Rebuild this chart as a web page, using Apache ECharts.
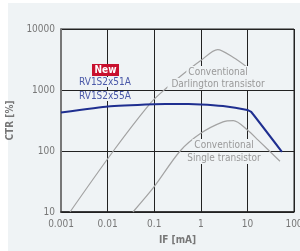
<!DOCTYPE html>
<html>
<head>
<meta charset="utf-8">
<script src="https://cdn.jsdelivr.net/npm/echarts@6/dist/echarts.min.js"></script>
<style>
  html, body { margin: 0; padding: 0; background: #fff; }
  #chart { width: 300px; height: 251px; }
</style>
</head>
<body>
<div id="chart"></div>
<script>
  // IF [mA], CTR [%]
  const newPart = [[0.001, 428], [0.01, 537], [0.1, 585], [0.3, 592], [1, 580], [3, 545], [10, 470], [12, 440], [55, 97]]
  const darlington = [[0.00156, 10], [0.0133, 100], [0.085, 620], [0.186, 1090], [0.42, 1830], [1, 3040], [2.3, 4600], [5, 3400], [10, 2350]]
  const single = [[0.035, 10], [0.1, 26], [0.36, 100], [1, 195], [3, 300], [5, 314], [10, 221], [17, 151], [50, 68]]
  const xTicks = [0.001, 0.01, 0.1, 1, 10, 100]

  const font = "'Liberation Sans Narrow', 'DejaVu Sans Condensed', 'Roboto Condensed', 'Roboto', sans-serif"
  const panel = '#eff3f5'
  const grey = '#999'

  const chart = echarts.init(document.getElementById('chart'))
  chart.setOption({
    backgroundColor: '#fff',
    animation: false,
    grid: { left: 61, right: 6, top: 29, bottom: 39, show: true, borderColor: '#222', borderWidth: 1,
      containLabel: false, outerBoundsMode: 'none' },
    xAxis: {
      type: 'log', logBase: 10, min: 0.001, max: 100,
      name: 'IF [mA]', nameLocation: 'middle', nameGap: 23,
      nameTextStyle: { color: '#777', fontFamily: font, fontSize: 10, fontWeight: 'bold' },
      axisLine: { lineStyle: { color: '#222', width: 1.5 } },
      axisTick: { show: false },
      axisLabel: { color: '#777', fontFamily: font, fontSize: 10, margin: 7,
        formatter: v => String(xTicks.find(t => Math.abs(t - v) / t < 1e-6) || v) },
      splitLine: { show: true, lineStyle: { color: '#222', width: 1 } }
    },
    yAxis: {
      type: 'log', logBase: 10, min: 10, max: 10000,
      name: 'CTR [%]', nameLocation: 'middle', nameGap: 34, nameRotate: 90,
      nameTextStyle: { color: '#777', fontFamily: font, fontSize: 10, fontWeight: 'bold' },
      axisLine: { lineStyle: { color: '#777', width: 2 } },
      axisTick: { show: false },
      axisLabel: { color: '#777', fontFamily: font, fontSize: 10, margin: 6,
        formatter: v => String(Math.round(v)) },
      splitLine: { show: true, lineStyle: { color: '#222', width: 1 } }
    },
    series: [
      { name: 'Darlington', type: 'line', data: darlington, smooth: 0.3, symbol: 'none',
        lineStyle: { color: '#a3a3a3', width: 1.2 }, z: 2 },
      { name: 'Single', type: 'line', data: single, smooth: 0.3, symbol: 'none',
        lineStyle: { color: '#a3a3a3', width: 1.2 }, z: 2 },
      { name: 'RV1S2x51A', type: 'line', data: newPart, smooth: 0.1, symbol: 'none',
        lineStyle: { color: '#1f2f90', width: 2 }, z: 3 }
    ],
    graphic: [
      { type: 'rect', z: -100, shape: { x: 8, y: 3, width: 292, height: 248 }, style: { fill: panel } },
      { type: 'rect', z: 100, shape: { x: 92, y: 64, width: 27, height: 12 }, style: { fill: '#c8102e' } },
      { type: 'text', z: 101, x: 105.5, y: 70, style: { text: 'New', fill: '#fff', font: 'bold 10px ' + font, align: 'center', verticalAlign: 'middle' } },
      { type: 'text', z: 101, x: 105, y: 82, style: { text: 'RV1S2x51A', fill: '#4a58a8', font: '10px ' + font, align: 'center', verticalAlign: 'middle', backgroundColor: panel, padding: [0, 2] } },
      { type: 'text', z: 101, x: 105, y: 96, style: { text: 'RV1S2x55A', fill: '#4a58a8', font: '10px ' + font, align: 'center', verticalAlign: 'middle', backgroundColor: panel, padding: [0, 2] } },
      { type: 'text', z: 101, x: 218, y: 72, style: { text: 'Conventional', fill: grey, font: '10px ' + font, align: 'center', verticalAlign: 'middle', backgroundColor: panel, padding: [1, 2] } },
      { type: 'text', z: 101, x: 218, y: 84, style: { text: 'Darlington transistor', fill: grey, font: '10px ' + font, align: 'center', verticalAlign: 'middle', backgroundColor: panel, padding: [1, 4] } },
      { type: 'text', z: 101, x: 224, y: 145, style: { text: 'Conventional', fill: grey, font: '10px ' + font, align: 'center', verticalAlign: 'middle', backgroundColor: panel, padding: [1, 2] } },
      { type: 'text', z: 101, x: 224, y: 158, style: { text: 'Single transistor', fill: grey, font: '10px ' + font, align: 'center', verticalAlign: 'middle', backgroundColor: panel, padding: [1, 4] } }
    ]
  })
</script>
</body>
</html>
